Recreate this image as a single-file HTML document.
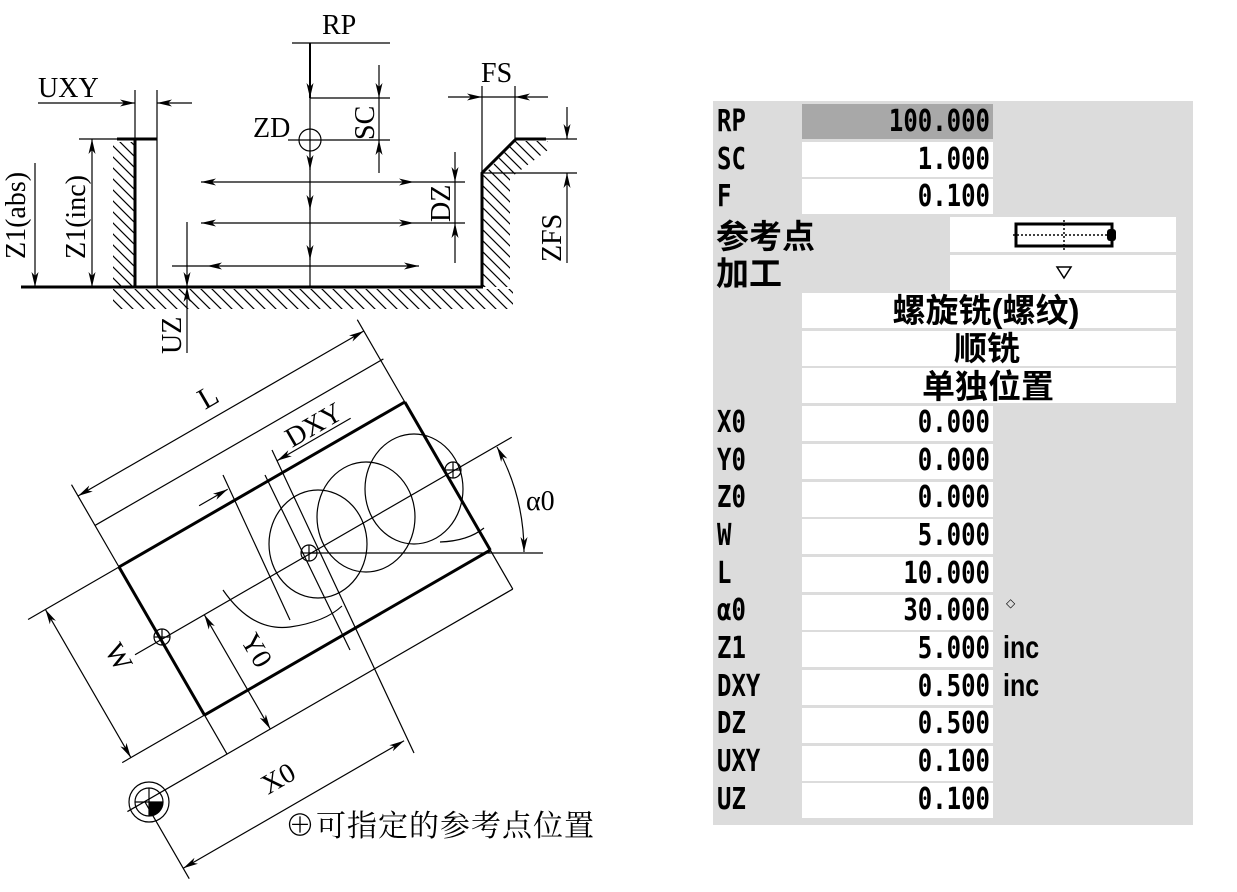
<!DOCTYPE html>
<html><head><meta charset="utf-8"><style>
html,body{margin:0;padding:0;background:#fff;}
svg{display:block;}
.t{stroke:#000;stroke-width:1.2;fill:none;}
.b{stroke:#000;stroke-width:3;fill:none;}
.s{font-family:"Liberation Serif","Noto Serif CJK SC",serif;fill:#000;}
.m{font-family:"DejaVu Sans Mono","Liberation Mono",monospace;font-weight:bold;font-size:24px;fill:#000;}
.c{font-family:"Liberation Sans","Noto Sans CJK SC",sans-serif;font-weight:bold;font-size:33px;fill:#000;}
.cap{font-family:"Liberation Serif","Noto Serif CJK SC",serif;font-size:30px;fill:#000;letter-spacing:1px;}
</style></head><body>
<svg width="1237" height="892" viewBox="0 0 1237 892" xmlns="http://www.w3.org/2000/svg">
<defs>
<marker id="a" markerUnits="userSpaceOnUse" markerWidth="16" markerHeight="8" refX="15" refY="4" orient="auto-start-reverse">
<path d="M0,0.5 L15,4 L0,7.5 L4,4 z" fill="#000"/></marker>
<pattern id="h" patternUnits="userSpaceOnUse" width="11" height="11">
<path d="M0,0 L11,11 M-2,9 L2,13 M9,-2 L13,2" stroke="#000" stroke-width="1.2"/></pattern>
</defs>

<!-- ============ TOP DIAGRAM ============ -->
<rect x="113" y="142" width="21" height="145" fill="url(#h)"/>
<rect x="113" y="289" width="400" height="20" fill="url(#h)"/>
<polygon points="483,287 483,176 515,141 548,141 548,150 510,178 510,287" fill="url(#h)"/>

<text class="s" x="322" y="34" font-size="28">RP</text>
<line class="t" x1="292" y1="43" x2="390" y2="43"/>
<line x1="310" y1="43" x2="310" y2="98" stroke="#000" stroke-width="2" marker-end="url(#a)"/>
<line class="t" x1="310" y1="98" x2="310" y2="287"/>
<line class="t" x1="310" y1="150" x2="310" y2="170" marker-end="url(#a)"/>
<line class="t" x1="310" y1="190" x2="310" y2="210" marker-end="url(#a)"/>
<line class="t" x1="310" y1="240" x2="310" y2="260" marker-end="url(#a)"/>
<line class="t" x1="310" y1="98" x2="390" y2="98"/>
<line class="t" x1="288" y1="140" x2="390" y2="140"/>
<line class="t" x1="379" y1="65" x2="379" y2="98" marker-end="url(#a)"/>
<line class="t" x1="379" y1="173" x2="379" y2="140" marker-end="url(#a)"/>
<line class="t" x1="379" y1="98" x2="379" y2="140"/>
<text class="s" font-size="28" transform="translate(374,140) rotate(-90)">SC</text>
<circle cx="310" cy="140" r="11" class="t"/>
<text class="s" x="253" y="137" font-size="28">ZD</text>
<line class="t" x1="201" y1="182" x2="414" y2="182" marker-start="url(#a)" marker-end="url(#a)"/>
<line class="t" x1="414" y1="182" x2="465" y2="182"/>
<line class="t" x1="201" y1="223" x2="414" y2="223" marker-start="url(#a)" marker-end="url(#a)"/>
<line class="t" x1="414" y1="223" x2="465" y2="223"/>
<line class="t" x1="172" y1="266" x2="207" y2="266"/>
<line class="t" x1="207" y1="266" x2="419" y2="266" marker-start="url(#a)" marker-end="url(#a)"/>
<line class="t" x1="455" y1="152" x2="455" y2="182" marker-end="url(#a)"/>
<line class="t" x1="455" y1="263" x2="455" y2="223" marker-end="url(#a)"/>
<line class="t" x1="455" y1="182" x2="455" y2="223"/>
<text class="s" font-size="28" transform="translate(450,222) rotate(-90)">DZ</text>
<line class="b" x1="21" y1="287" x2="483" y2="287" stroke-width="2.5"/>
<line class="b" x1="135" y1="139" x2="135" y2="287"/>
<line class="b" x1="117" y1="139" x2="157" y2="139"/>
<line class="t" x1="79" y1="139" x2="117" y2="139"/>
<line class="t" x1="157" y1="90" x2="157" y2="287"/>
<line class="t" x1="135" y1="90" x2="135" y2="139"/>
<text class="s" x="38" y="97" font-size="28">UXY</text>
<line class="t" x1="38" y1="103" x2="135" y2="103" marker-end="url(#a)"/>
<line class="t" x1="192" y1="103" x2="157" y2="103" marker-end="url(#a)"/>
<line class="t" x1="35" y1="163" x2="35" y2="287" marker-end="url(#a)"/>
<text class="s" font-size="28" transform="translate(25,259) rotate(-90)">Z1(abs)</text>
<line class="t" x1="92" y1="139" x2="92" y2="287" marker-start="url(#a)" marker-end="url(#a)"/>
<text class="s" font-size="28" transform="translate(85,259) rotate(-90)">Z1(inc)</text>
<line class="t" x1="187" y1="222" x2="187" y2="287" marker-end="url(#a)"/>
<line class="t" x1="187" y1="353" x2="187" y2="287" marker-end="url(#a)"/>
<text class="s" font-size="28" transform="translate(181,354) rotate(-90)">UZ</text>
<polyline class="b" points="482,287 482,173 516,139 546,139"/>
<line class="t" x1="546" y1="139" x2="577" y2="139"/>
<line class="t" x1="482" y1="86" x2="482" y2="173"/>
<line class="t" x1="515" y1="86" x2="515" y2="139"/>
<line class="t" x1="482" y1="173" x2="577" y2="173"/>
<text class="s" x="481" y="82" font-size="28">FS</text>
<line class="t" x1="448" y1="97" x2="482" y2="97" marker-end="url(#a)"/>
<line class="t" x1="548" y1="97" x2="515" y2="97" marker-end="url(#a)"/>
<line class="t" x1="482" y1="97" x2="515" y2="97"/>
<line class="t" x1="567" y1="107" x2="567" y2="139" marker-end="url(#a)"/>
<line class="t" x1="567" y1="263" x2="567" y2="173" marker-end="url(#a)"/>
<text class="s" font-size="28" transform="translate(561,262) rotate(-90)">ZFS</text>

<!-- ============ BOTTOM DIAGRAM ============ -->
<g transform="translate(119,567) rotate(-30)">
  <line class="b" x1="0" y1="0" x2="330" y2="0"/>
  <line class="b" x1="330" y1="0" x2="330" y2="171"/>
  <line class="b" x1="0" y1="171" x2="330" y2="171"/>
  <line class="b" x1="0" y1="0" x2="0" y2="171"/>
  <line class="t" x1="0" y1="-95" x2="0" y2="0"/>
  <line class="t" x1="0" y1="171" x2="0" y2="216"/>
  <line class="t" x1="330" y1="-95" x2="330" y2="0"/>
  <line class="t" x1="330" y1="171" x2="330" y2="216"/>
  <line class="t" x1="-105" y1="0" x2="0" y2="0"/>
  <line class="t" x1="-95" y1="171" x2="0" y2="171"/>
  <line class="t" x1="0" y1="-82" x2="330" y2="-82" marker-start="url(#a)" marker-end="url(#a)"/>
  <line class="t" x1="0" y1="-48" x2="333" y2="-48"/>
  <line class="t" x1="-30" y1="84" x2="405" y2="84"/>
  <line class="t" x1="-115" y1="216" x2="330" y2="216"/>
  <line class="t" x1="-85" y1="0" x2="-85" y2="171" marker-start="url(#a)" marker-end="url(#a)"/>
  <line class="t" x1="50" y1="84" x2="50" y2="216" marker-start="url(#a)" marker-end="url(#a)"/>
  <line class="t" x1="-95" y1="216" x2="-95" y2="305"/>
  <line class="t" x1="-95" y1="293" x2="160" y2="293" marker-start="url(#a)" marker-end="url(#a)"/>
  <line class="t" x1="100" y1="-13" x2="133" y2="-13" marker-end="url(#a)"/>
  <line class="t" x1="275" y1="-13" x2="190" y2="-13" marker-end="url(#a)"/>
</g>
<line class="t" x1="223" y1="475" x2="290" y2="620"/>
<line class="t" x1="265" y1="475" x2="350" y2="650"/>
<line class="t" x1="272" y1="450" x2="414" y2="753"/>
<ellipse cx="318" cy="544" rx="49" ry="54" class="t"/>
<ellipse cx="366" cy="517" rx="49" ry="55" class="t"/>
<ellipse cx="414" cy="489" rx="49" ry="55" class="t"/>
<path class="t" d="M223,590 Q252,632 290,627 Q325,622 342,606"/>
<path class="t" d="M440,542 Q468,541 484,528"/>
<line class="t" x1="309" y1="553" x2="543" y2="553"/>
<path class="t" d="M497,447 A217,217 0 0 1 524,552" marker-start="url(#a)" marker-end="url(#a)"/>
<text class="s" x="526" y="510" font-size="28">α0</text>
<g class="t">
<circle cx="162" cy="637" r="8"/><line x1="154" y1="637" x2="170" y2="637"/><line x1="162" y1="629" x2="162" y2="645"/>
<circle cx="453" cy="470" r="8"/><line x1="445" y1="470" x2="461" y2="470"/><line x1="453" y1="462" x2="453" y2="478"/>
<circle cx="309" cy="553" r="8"/><line x1="301" y1="553" x2="317" y2="553"/><line x1="309" y1="545" x2="309" y2="561"/>
</g>
<circle cx="149" cy="802" r="20" class="t" stroke-width="1.5"/>
<circle cx="149" cy="802" r="14" class="t" stroke-width="1.5"/>
<path d="M149,802 L163,802 A14,14 0 0 1 149,816 Z" fill="#000"/>
<line class="t" x1="135" y1="802" x2="163" y2="802"/>
<line class="t" x1="149" y1="788" x2="149" y2="816"/>
<text class="s" font-size="30" transform="translate(205,410) rotate(-30)">L</text>
<text class="s" font-size="28" transform="translate(292,448) rotate(-30)">DXY</text>
<text class="s" font-size="28" transform="translate(104,650) rotate(60)">W</text>
<text class="s" font-size="28" transform="translate(240,640) rotate(60)">Y0</text>
<text class="s" font-size="28" transform="translate(268,795) rotate(-30)">X0</text>
<text class="cap" x="285" y="836">⊕可指定的参考点位置</text>

<!-- ============ TABLE ============ -->
<rect x="713" y="101" width="480" height="724" fill="#dcdcdc"/>
<rect x="802" y="104" width="191" height="35" fill="#a8a8a8"/>
<g fill="#fff">
<rect x="802" y="142" width="191" height="35"/>
<rect x="802" y="179" width="191" height="35"/>
<rect x="950" y="217" width="226" height="35"/>
<rect x="950" y="255" width="226" height="35"/>
<rect x="802" y="293" width="374" height="35"/>
<rect x="802" y="331" width="374" height="35"/>
<rect x="802" y="368" width="374" height="35"/>
<rect x="802" y="406" width="191" height="35"/>
<rect x="802" y="444" width="191" height="35"/>
<rect x="802" y="482" width="191" height="35"/>
<rect x="802" y="519" width="191" height="35"/>
<rect x="802" y="557" width="191" height="35"/>
<rect x="802" y="595" width="191" height="35"/>
<rect x="802" y="632" width="191" height="35"/>
<rect x="802" y="670" width="191" height="35"/>
<rect x="802" y="708" width="191" height="35"/>
<rect x="802" y="746" width="191" height="35"/>
<rect x="802" y="783" width="191" height="35"/>
</g>
<g class="m">
<text transform="translate(717,131) scale(1,1.25)">RP</text><text transform="translate(990,131) scale(1,1.25)" text-anchor="end">100.000</text>
<text transform="translate(717,169) scale(1,1.25)">SC</text><text transform="translate(990,169) scale(1,1.25)" text-anchor="end">1.000</text>
<text transform="translate(717,206) scale(1,1.25)">F</text><text transform="translate(990,206) scale(1,1.25)" text-anchor="end">0.100</text>
<text transform="translate(717,432) scale(1,1.25)">X0</text><text transform="translate(990,432) scale(1,1.25)" text-anchor="end">0.000</text>
<text transform="translate(717,470) scale(1,1.25)">Y0</text><text transform="translate(990,470) scale(1,1.25)" text-anchor="end">0.000</text>
<text transform="translate(717,507) scale(1,1.25)">Z0</text><text transform="translate(990,507) scale(1,1.25)" text-anchor="end">0.000</text>
<text transform="translate(717,545) scale(1,1.25)">W</text><text transform="translate(990,545) scale(1,1.25)" text-anchor="end">5.000</text>
<text transform="translate(717,583) scale(1,1.25)">L</text><text transform="translate(990,583) scale(1,1.25)" text-anchor="end">10.000</text>
<text transform="translate(717,620) scale(1,1.25)">α0</text><text transform="translate(990,620) scale(1,1.25)" text-anchor="end">30.000</text>
<text transform="translate(717,658) scale(1,1.25)">Z1</text><text transform="translate(990,658) scale(1,1.25)" text-anchor="end">5.000</text>
<text transform="translate(717,696) scale(1,1.25)">DXY</text><text transform="translate(990,696) scale(1,1.25)" text-anchor="end">0.500</text>
<text transform="translate(717,733) scale(1,1.25)">DZ</text><text transform="translate(990,733) scale(1,1.25)" text-anchor="end">0.500</text>
<text transform="translate(717,771) scale(1,1.25)">UXY</text><text transform="translate(990,771) scale(1,1.25)" text-anchor="end">0.100</text>
<text transform="translate(717,809) scale(1,1.25)">UZ</text><text transform="translate(990,809) scale(1,1.25)" text-anchor="end">0.100</text>
<text transform="translate(1003,658) scale(1,1.25)" font-family="Liberation Sans" font-size="25">inc</text>
<text transform="translate(1003,696) scale(1,1.25)" font-family="Liberation Sans" font-size="25">inc</text>
</g>
<text x="1006" y="607" font-size="12" font-family="DejaVu Sans" fill="#000">◇</text>
<g class="c">
<text x="716" y="248">参考点</text>
<text x="716" y="285">加工</text>
<text x="986" y="322" text-anchor="middle">螺旋铣(螺纹)</text>
<text x="987" y="360" text-anchor="middle">顺铣</text>
<text x="988" y="398" text-anchor="middle">单独位置</text>
</g>
<rect x="1016" y="224" width="96" height="22" fill="none" stroke="#000" stroke-width="3"/>
<line x1="1013" y1="235" x2="1108" y2="235" stroke="#000" stroke-width="1.5" stroke-dasharray="2,2"/>
<line x1="1064" y1="220" x2="1064" y2="250" stroke="#000" stroke-width="1.5" stroke-dasharray="2,2"/>
<rect x="1107" y="229" width="9" height="12" rx="3" fill="#000"/>
<polygon points="1057,267 1071,267 1064,278" fill="none" stroke="#000" stroke-width="1.5"/>
</svg>
</body></html>
